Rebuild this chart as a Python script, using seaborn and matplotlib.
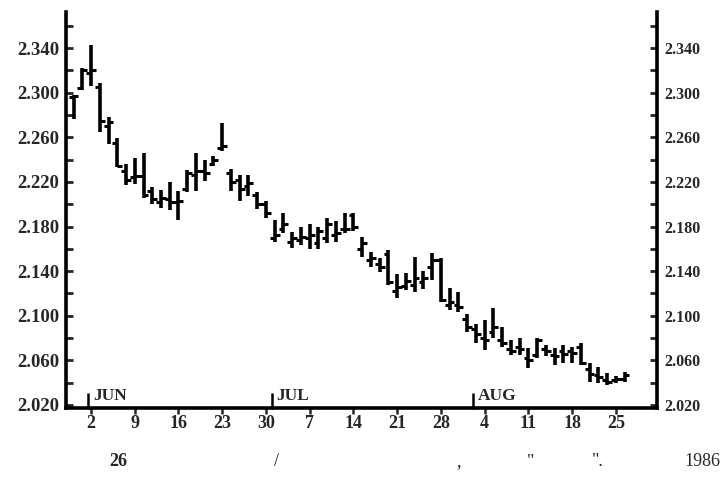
import numpy as np
import pandas as pd
import matplotlib
matplotlib.use("Agg")
import matplotlib.pyplot as plt
import seaborn as sns

# ---- data ----
dates = pd.bdate_range("1986-05-29", "1986-08-26")
opens = [2.296, 2.304, 2.318, 2.305, 2.270, 2.255, 2.230, 2.224, 2.225, 2.212,
         2.202, 2.205, 2.202, 2.214, 2.226, 2.230, 2.236, 2.250, 2.228, 2.222,
         2.216, 2.208, 2.200, 2.170, 2.178, 2.166, 2.168, 2.170, 2.165, 2.170,
         2.172, 2.178, 2.190, 2.160, 2.150, 2.146, 2.155, 2.122, 2.127, 2.128,
         2.130, 2.144, 2.150, 2.110, 2.110, 2.097, 2.088, 2.080, 2.085, 2.078,
         2.070, 2.072, 2.062, 2.065, 2.070, 2.065, 2.068, 2.068, 2.072, 2.052,
         2.047, 2.042, 2.042, 2.043]
highs = [2.298, 2.322, 2.343, 2.309, 2.278, 2.259, 2.236, 2.241, 2.246, 2.215,
         2.213, 2.220, 2.212, 2.231, 2.246, 2.240, 2.243, 2.273, 2.232, 2.226,
         2.226, 2.211, 2.203, 2.186, 2.192, 2.175, 2.180, 2.182, 2.180, 2.188,
         2.185, 2.192, 2.192, 2.171, 2.157, 2.152, 2.159, 2.137, 2.138, 2.153,
         2.140, 2.156, 2.152, 2.125, 2.121, 2.102, 2.093, 2.096, 2.107, 2.090,
         2.078, 2.080, 2.071, 2.080, 2.074, 2.071, 2.074, 2.072, 2.076, 2.058,
         2.054, 2.049, 2.046, 2.050]
lows = [2.276, 2.302, 2.306, 2.265, 2.254, 2.233, 2.217, 2.218, 2.206, 2.200,
        2.197, 2.195, 2.186, 2.211, 2.212, 2.221, 2.234, 2.248, 2.212, 2.203,
        2.207, 2.196, 2.188, 2.166, 2.174, 2.161, 2.163, 2.160, 2.160, 2.165,
        2.166, 2.174, 2.176, 2.153, 2.144, 2.139, 2.128, 2.116, 2.123, 2.121,
        2.124, 2.132, 2.112, 2.105, 2.103, 2.085, 2.076, 2.069, 2.080, 2.072,
        2.065, 2.065, 2.053, 2.062, 2.064, 2.056, 2.058, 2.058, 2.056, 2.041,
        2.040, 2.038, 2.040, 2.041]
closes = [2.297, 2.320, 2.320, 2.275, 2.274, 2.234, 2.222, 2.225, 2.208, 2.205,
          2.206, 2.202, 2.203, 2.228, 2.230, 2.228, 2.240, 2.252, 2.220, 2.214,
          2.219, 2.200, 2.192, 2.172, 2.182, 2.170, 2.171, 2.172, 2.176, 2.182,
          2.174, 2.178, 2.180, 2.165, 2.152, 2.144, 2.130, 2.126, 2.131, 2.134,
          2.134, 2.150, 2.114, 2.112, 2.108, 2.090, 2.084, 2.078, 2.090, 2.076,
          2.068, 2.070, 2.060, 2.078, 2.068, 2.064, 2.066, 2.067, 2.058, 2.048,
          2.045, 2.041, 2.043, 2.047]

week_dates = ["1986-06-02", "1986-06-09", "1986-06-16", "1986-06-23", "1986-06-30",
              "1986-07-07", "1986-07-14", "1986-07-21", "1986-07-28",
              "1986-08-04", "1986-08-11", "1986-08-18", "1986-08-25"]
week_labels = ["2", "9", "16", "23", "30", "7", "14", "21", "28", "4", "11", "18", "25"]
month_labels = ["JUN", "JUL", "AUG"]
month_first_days = ["1986-06-02", "1986-07-01", "1986-08-01"]
ytick_major = [2.020, 2.060, 2.100, 2.140, 2.180, 2.220, 2.260, 2.300, 2.340]
ytick_minor = [2.040, 2.080, 2.120, 2.160, 2.200, 2.240, 2.280, 2.320, 2.360]
caption_parts = ["26", "/", ",", "\"", "\".", "1986"]

# ---- style ----
sns.set_style("ticks")
plt.rcParams['font.family'] = ['Liberation Serif', 'DejaVu Serif']

W, H = 724, 479
fig = plt.figure(figsize=(W / 100, H / 100), dpi=100)
ax = fig.add_axes([66 / W, 71 / H, (657 - 66) / W, (467 - 71) / H])

ref = np.datetime64("1986-06-02")
pos = np.busday_count(ref, dates.values.astype("datetime64[D]")).astype(float)
df = pd.DataFrame({"pos": pos, "open": opens, "high": highs, "low": lows, "close": closes})

ax.vlines(df["pos"], df["low"], df["high"], color="black", lw=2.6)
ax.hlines(df["open"], df["pos"] - 0.55, df["pos"], color="black", lw=2.2)
ax.hlines(df["close"], df["pos"], df["pos"] + 0.55, color="black", lw=2.2)

ax.set_xlim(-2.86, 64.7)
ax.set_ylim(2.0173, 2.3723)

# spines
sns.despine(ax=ax, top=True, right=False, left=False, bottom=False)
for s in ["left", "right", "bottom"]:
    ax.spines[s].set_linewidth(2.6)
    ax.spines[s].set_color("black")

# y ticks both sides, pointing inward
ax.set_yticks(ytick_major)
ax.set_yticklabels([f"{v:.3f}" for v in ytick_major])
ax.set_yticks(ytick_minor, minor=True)
ax.tick_params(axis="y", which="both", direction="in", left=True, right=True,
               labelleft=True, labelright=True, length=5, width=2.0, pad=5)
for t in ax.yaxis.get_major_ticks():
    t.label1.set_fontsize(13.5)
    t.label1.set_fontweight("bold")
    t.label2.set_fontsize(11.5)
    t.label2.set_fontweight("bold")

# x ticks
wpos = np.busday_count(ref, np.array(week_dates, dtype="datetime64[D]"))
ax.set_xticks(wpos)
ax.set_xticklabels(week_labels, fontweight="bold", fontsize=13)
ax.tick_params(axis="x", which="both", direction="out", length=4, width=1.8, pad=1)
ax.tick_params(axis="x", which="minor", bottom=False)

# month markers
mpos = np.busday_count(ref, np.array(month_first_days, dtype="datetime64[D]")) - 0.35
ax.vlines(mpos, 2.0160, 2.031, color="black", lw=1.8, clip_on=False)
for p, lab in zip(mpos, month_labels):
    ax.text(p + 0.55, 2.0285, lab, fontsize=12.5, fontweight="bold",
            va="center", ha="left")

# caption fragments
cap_x = [118, 277, 459, 531, 598, 720]
cap_ha = ["center", "center", "center", "center", "center", "right"]
cap_w = ["bold", "normal", "normal", "normal", "normal", "normal"]
for t, x, ha, fw in zip(caption_parts, cap_x, cap_ha, cap_w):
    fig.text(x / W, 1 - 462 / H, t, ha=ha, va="center", fontsize=13, fontweight=fw)

fig.savefig("out.png", dpi=100)
